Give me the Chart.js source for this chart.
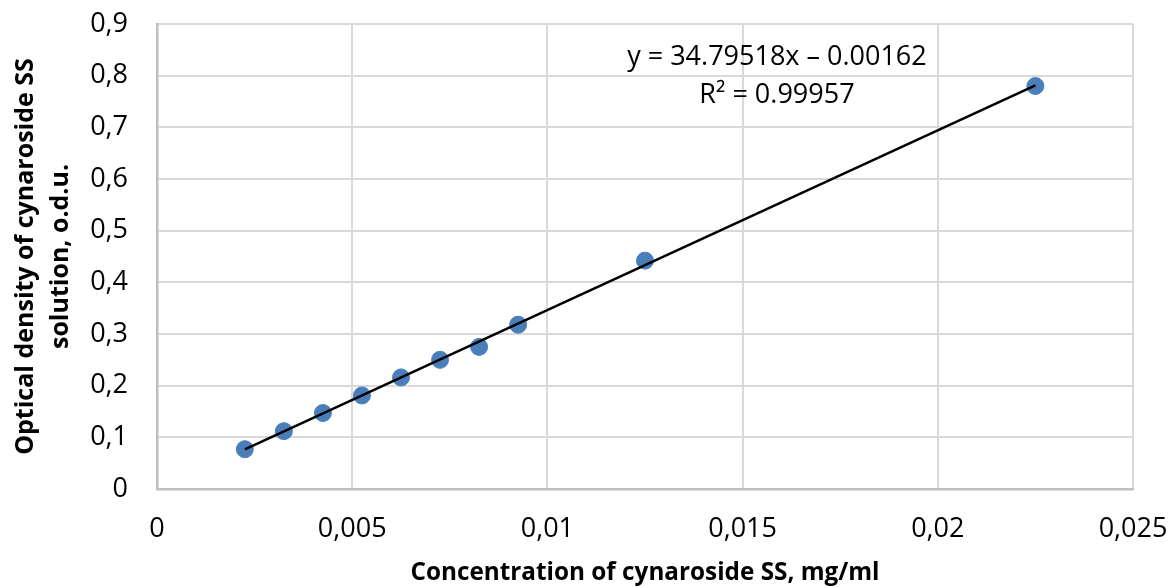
<!DOCTYPE html>
<html><head><meta charset="utf-8">
<script src="https://cdn.jsdelivr.net/npm/chart.js@4.4.0/dist/chart.umd.min.js"></script>
<style>html,body{margin:0;padding:0;background:#fff}#wrap{width:1169px;height:587px}</style>
</head><body><div id="wrap"><canvas id="c" width="1169" height="587"></canvas></div>
<script>
const concentration = [0.00225, 0.00325, 0.00425, 0.00525, 0.00625, 0.00725, 0.00825, 0.00925, 0.0125, 0.0225];
const opticalDensity = [0.077, 0.112, 0.147, 0.181, 0.216, 0.250, 0.275, 0.318, 0.442, 0.780];
const trendSlope = 34.79518;
const trendIntercept = -0.00162;
const rSquared = 0.99957;
const xTickLabels = ['0', '0,005', '0,01', '0,015', '0,02', '0,025'];
const yTickLabels = ['0', '0,1', '0,2', '0,3', '0,4', '0,5', '0,6', '0,7', '0,8', '0,9'];
const xTitle = 'Concentration of cynaroside SS, mg/ml';
const yTitle = ['Optical density of cynaroside SS', 'solution, o.d.u.'];

const points = concentration.map((x, i) => ({x, y: opticalDensity[i]}));
const xMin = Math.min(...concentration), xMax = Math.max(...concentration);
const trend = [xMin, xMax].map(x => ({x, y: trendSlope * x + trendIntercept}));
const eqText = 'y = ' + trendSlope.toFixed(5) + 'x \u2013 ' + Math.abs(trendIntercept).toFixed(5);
const r2Text = 'R\u00B2 = ' + rSquared.toFixed(5);

const FONT = '"Open Sans", "DejaVu Sans", sans-serif';

const eqPlugin = {
  id: 'eqLabel',
  afterDatasetsDraw(chart) {
    const {ctx, scales: {x, y}} = chart;
    ctx.save();
    ctx.font = '27px ' + FONT;
    ctx.fillStyle = '#000';
    ctx.textAlign = 'center';
    ctx.textBaseline = 'middle';
    const cx = x.getPixelForValue(0.01588);
    ctx.fillText(eqText, cx, y.getPixelForValue(0.836));
    ctx.fillText(r2Text, cx, y.getPixelForValue(0.762));
    ctx.restore();
  }
};

new Chart(document.getElementById('c'), {
  type: 'scatter',
  data: {
    datasets: [
      {
        type: 'line',
        data: trend,
        borderColor: '#000',
        borderWidth: 2.5,
        pointRadius: 0,
        fill: false
      },
      {
        data: points,
        backgroundColor: '#4a7ebb',
        borderColor: '#4a7ebb',
        pointRadius: 8.5,
        pointHoverRadius: 8.5
      }
    ]
  },
  options: {
    responsive: false,
    animation: false,
    devicePixelRatio: 1,
    layout: {padding: {top: 24, right: 36, left: 0, bottom: 0}},
    plugins: {legend: {display: false}, tooltip: {enabled: false}},
    scales: {
      x: {
        type: 'linear',
        min: 0, max: 0.025,
        ticks: {
          stepSize: 0.005,
          padding: 24,
          color: '#000',
          font: {family: FONT, size: 27},
          maxRotation: 0,
          callback: (v, i) => xTickLabels[i]
        },
        grid: {color: '#d9d9d9', lineWidth: 2, drawTicks: false},
        border: {color: '#bfbfbf', width: 2.5},
        title: {
          display: true,
          text: xTitle,
          color: '#000',
          font: {family: FONT, size: 24.3, weight: 'bold'},
          padding: {top: 0, bottom: -1}
        },
        afterFit: s => { s.height = 98; s.paddingLeft = 0; s.paddingRight = 0; }
      },
      y: {
        type: 'linear',
        min: 0, max: 0.9,
        ticks: {
          stepSize: 0.1,
          padding: 29,
          color: '#000',
          font: {family: FONT, size: 27},
          callback: (v, i) => yTickLabels[i]
        },
        grid: {color: '#d9d9d9', lineWidth: 2, drawTicks: false},
        border: {color: '#bfbfbf', width: 2.5},
        title: {
          display: true,
          text: yTitle,
          color: '#000',
          font: {family: FONT, size: 25, weight: 'bold', lineHeight: 1.4},
          padding: {top: 8, bottom: 0}
        },
        afterFit: s => { s.width = 157; s.paddingTop = 0; s.paddingBottom = 0; }
      }
    }
  },
  plugins: [eqPlugin]
});
</script></body></html>
